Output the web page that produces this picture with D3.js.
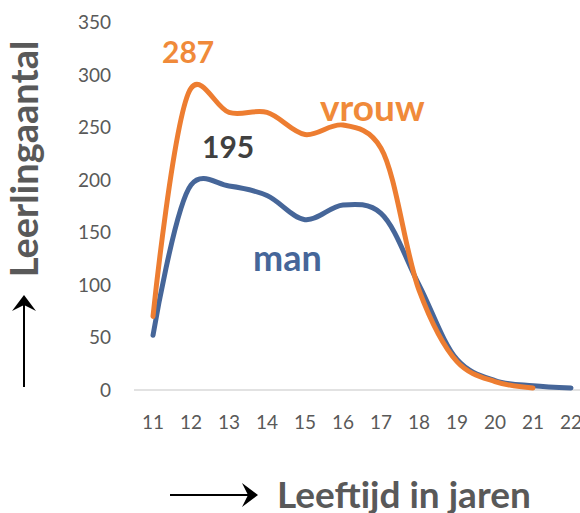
<!DOCTYPE html>
<meta charset="utf-8">
<head>
    <script src="https://cdn.jsdelivr.net/npm/d3@7"></script>
    <style>
        body { margin: 0; background: #fff; }
        text { font-family: Lato, "Open Sans", sans-serif; }
    </style>
    <title>Leerlingaantal naar leeftijd</title>
</head>
<body>
<script>
    // data
    var ages = [11, 12, 13, 14, 15, 16, 17, 18, 19, 20, 21, 22];
    var vrouw = [70, 287, 264, 264, 243, 252, 230, 95, 27, 8, 2];
    var man = [52, 195, 194, 185, 162, 176, 168, 100, 29, 9, 4, 2];
    var yTicks = [0, 50, 100, 150, 200, 250, 300, 350];

    var width = 580, height = 513;

    var svg = d3.select("body").append("svg")
        .attr("width", width)
        .attr("height", height);

    var x = d3.scaleLinear().domain([11, 22]).range([153, 571]);
    var y = d3.scaleLinear().domain([0, 350]).range([390, 22]);

    // axis baseline
    svg.append("line")
        .attr("x1", 134).attr("x2", 580)
        .attr("y1", y(0)).attr("y2", y(0))
        .style("stroke", "#d9d9d9")
        .style("stroke-width", 1.5);

    // y tick labels
    svg.append("g").selectAll("text")
        .data(yTicks).enter()
        .append("text")
        .attr("x", 111)
        .attr("y", d => y(d) + 7)
        .attr("text-anchor", "end")
        .style("font-size", "19px")
        .style("fill", "#595959")
        .text(d => d);

    // x tick labels
    svg.append("g").selectAll("text")
        .data(ages).enter()
        .append("text")
        .attr("x", d => x(d))
        .attr("y", 429)
        .attr("text-anchor", "middle")
        .style("font-size", "19px")
        .style("fill", "#595959")
        .text(d => d);

    var line = d3.line()
        .x((d, i) => x(ages[i]))
        .y(d => y(d))
        .curve(d3.curveCatmullRom.alpha(0.25));

    svg.append("path")
        .datum(man)
        .attr("d", line)
        .style("fill", "none")
        .style("stroke", "#466699")
        .style("stroke-width", 5)
        .style("stroke-linecap", "round");

    svg.append("path")
        .datum(vrouw)
        .attr("d", line)
        .style("fill", "none")
        .style("stroke", "#ed7d31")
        .style("stroke-width", 5)
        .style("stroke-linecap", "round");

    // labels in the chart
    function label(txt, px, py, size, color) {
        svg.append("text")
            .attr("x", px).attr("y", py)
            .style("font-size", size + "px")
            .style("font-weight", "bold")
            .style("fill", color)
            .text(txt);
    }
    label("287", 162, 63, 30, "#f08a3a");
    label("195", 202, 158, 30, "#404040");
    label("vrouw", 320, 121, 37, "#f08a3a");
    label("man", 253, 271, 36, "#466699");

    // axis titles
    svg.append("text")
        .attr("transform", "translate(38, 159) rotate(-90)")
        .attr("text-anchor", "middle")
        .style("font-size", "38px")
        .style("font-weight", "bold")
        .style("fill", "#595959")
        .text("Leerlingaantal");

    svg.append("text")
        .attr("x", 277).attr("y", 508)
        .style("font-size", "37px")
        .style("font-weight", "bold")
        .style("fill", "#595959")
        .text("Leeftijd in jaren");

    // arrows
    svg.append("line")
        .attr("x1", 24).attr("y1", 387)
        .attr("x2", 24).attr("y2", 305)
        .style("stroke", "#000").style("stroke-width", 2);
    svg.append("path")
        .attr("d", "M24,295 L36,311 L24,305 L12,311 Z")
        .style("fill", "#000");

    svg.append("line")
        .attr("x1", 170).attr("y1", 495)
        .attr("x2", 250).attr("y2", 495)
        .style("stroke", "#000").style("stroke-width", 2);
    svg.append("path")
        .attr("d", "M258,495 L242,483 L248,495 L242,507 Z")
        .style("fill", "#000");
</script>
</body>
</html>
